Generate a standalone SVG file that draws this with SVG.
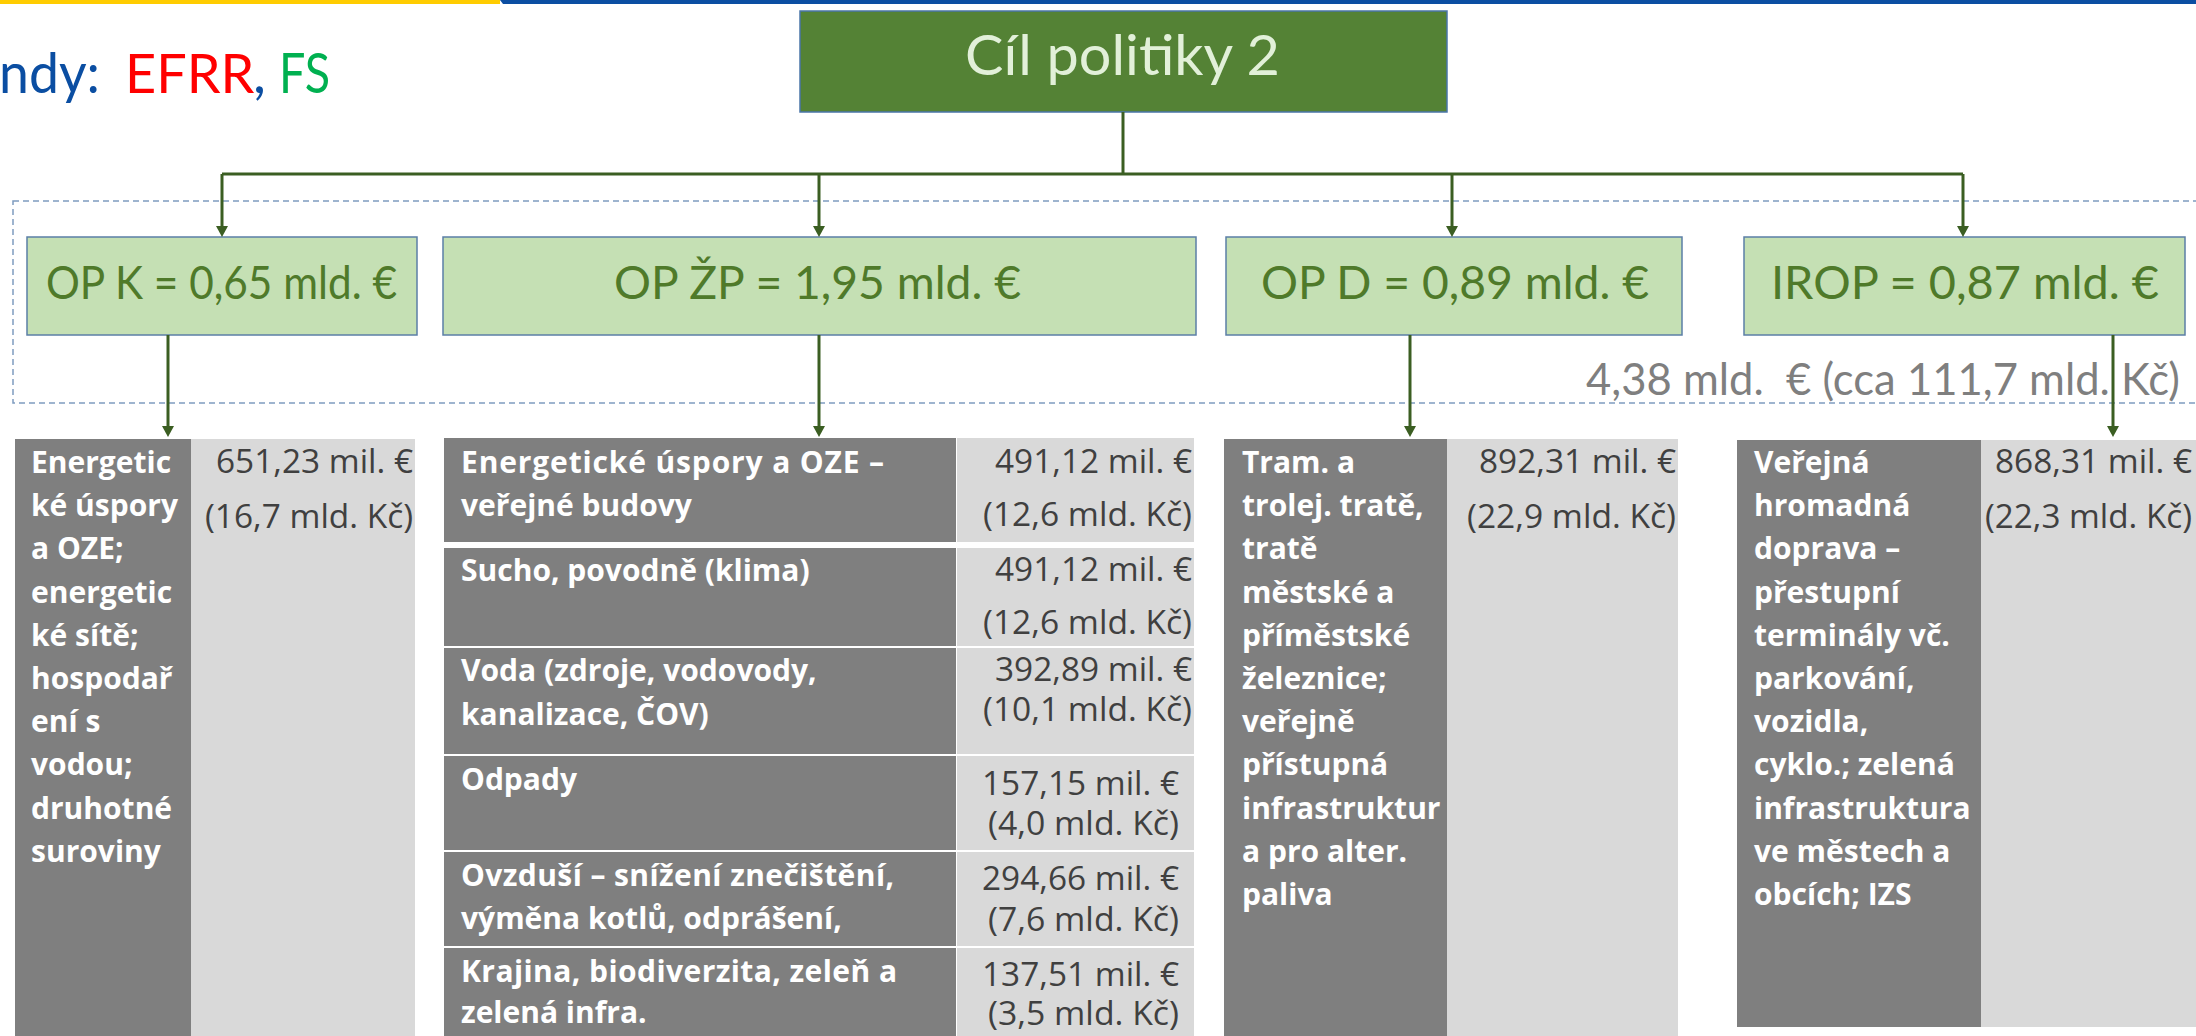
<svg xmlns="http://www.w3.org/2000/svg" width="2196" height="1036" viewBox="0 0 2196 1036">
<style>
.bar-y{fill:#FFCC00}
.bar-b{fill:#0B4EA2}
.title{fill:#548235;stroke:#4A75A8;stroke-width:1.5}
.op{fill:#C5E0B4;stroke:#5B7FA6;stroke-width:1.5}
.optx{font-family:Lato,"Open Sans",sans-serif;font-size:46px;fill:#4F7A2A}
.fund{font-family:Lato,"Open Sans",sans-serif;font-size:57px}
.dk{fill:#7F7F7F}
.lt{fill:#D9D9D9}
.bt{font-family:"Open Sans","Noto Sans",sans-serif;font-weight:bold;font-size:30px;fill:#FFFFFF}
.nt{font-family:"Open Sans","Noto Sans",sans-serif;font-size:32px;fill:#404040}
.conn{fill:none;stroke:#3B5E22;stroke-width:3}
.dash{fill:none;stroke:#7F9CC0;stroke-width:1.5;stroke-dasharray:6 4}
</style>
<defs>
<marker id="arr" viewBox="0 0 11 12" refX="0" refY="6" markerWidth="11" markerHeight="12" markerUnits="userSpaceOnUse" orient="auto">
<path d="M0,0 L11,6 L0,12 z" fill="#3B5E22"/>
</marker>
</defs>
<rect width="2196" height="1036" fill="#FFFFFF"/>
<rect class="bar-y" x="0" y="0" width="500" height="4"/>
<polygon class="bar-b" points="500,0 2196,0 2196,4 503,4"/>

<g id="funds-label">
<text class="fund" x="-1" y="93" fill="#0B4EA2" textLength="101" lengthAdjust="spacingAndGlyphs">ndy:</text>
<text class="fund" x="125" y="93" fill="#FF0000" style="font-size:54px">EFRR</text>
<text class="fund" x="253" y="93" fill="#0B4EA2">,</text>
<text class="fund" x="279" y="93" fill="#00B050" textLength="51" lengthAdjust="spacingAndGlyphs">FS</text>
</g>

<rect class="dash" x="13" y="201" width="2220" height="202"/>

<g id="node-title">
<rect class="title" x="800" y="11" width="647" height="101"/>
<text x="965" y="75" font-family="Lato,'Open Sans',sans-serif" font-size="57px" fill="#E2F0D9" textLength="315" lengthAdjust="spacingAndGlyphs">Cíl politiky 2</text>
</g>

<g id="node-opk">
<rect class="op" x="27" y="237" width="390" height="98"/>
<text class="optx" x="46" y="299" textLength="351" lengthAdjust="spacingAndGlyphs">OP K = 0,65 mld. €</text>
</g>
<g id="node-opzp">
<rect class="op" x="443" y="237" width="753" height="98"/>
<text class="optx" x="614" y="299" textLength="407" lengthAdjust="spacingAndGlyphs">OP ŽP = 1,95 mld. €</text>
</g>
<g id="node-opd">
<rect class="op" x="1226" y="237" width="456" height="98"/>
<text class="optx" x="1261" y="299" textLength="388" lengthAdjust="spacingAndGlyphs">OP D = 0,89 mld. €</text>
</g>
<g id="node-irop">
<rect class="op" x="1744" y="237" width="441" height="98"/>
<text class="optx" x="1771" y="299" textLength="388" lengthAdjust="spacingAndGlyphs">IROP = 0,87 mld. €</text>
</g>

<g id="total-label">
<text x="1586" y="395" font-family="Lato,'Open Sans',sans-serif" font-size="44px" fill="#7F7F7F" textLength="594" lengthAdjust="spacingAndGlyphs">4,38 mld.&#160; € (cca 111,7 mld. Kč)</text>
</g>

<g id="table-opk">
<rect class="dk" x="15" y="439" width="176" height="600"/>
<rect class="lt" x="191" y="439" width="224" height="600"/>
<text class="bt" x="31">
<tspan x="31" y="473">Energetic</tspan>
<tspan x="31" y="516">ké úspory</tspan>
<tspan x="31" y="559">a OZE;</tspan>
<tspan x="31" y="603">energetic</tspan>
<tspan x="31" y="646">ké sítě;</tspan>
<tspan x="31" y="689">hospodař</tspan>
<tspan x="31" y="732">ení s</tspan>
<tspan x="31" y="775">vodou;</tspan>
<tspan x="31" y="819">druhotné</tspan>
<tspan x="31" y="862">suroviny</tspan>
</text>
<text class="nt" x="216" y="473" textLength="197" lengthAdjust="spacingAndGlyphs">651,23 mil. €</text>
<text class="nt" x="205" y="528" textLength="208" lengthAdjust="spacingAndGlyphs">(16,7 mld. Kč)</text>
</g>

<g id="table-opzp">
<rect class="dk" x="444" y="438" width="512" height="104"/>
<rect class="lt" x="957" y="438" width="237" height="104"/>
<rect class="dk" x="444" y="548" width="512" height="98"/>
<rect class="lt" x="957" y="548" width="237" height="98"/>
<rect class="dk" x="444" y="648" width="512" height="106"/>
<rect class="lt" x="957" y="648" width="237" height="106"/>
<rect class="dk" x="444" y="756" width="512" height="94"/>
<rect class="lt" x="957" y="756" width="237" height="94"/>
<rect class="dk" x="444" y="852" width="512" height="94"/>
<rect class="lt" x="957" y="852" width="237" height="94"/>
<rect class="dk" x="444" y="948" width="512" height="92"/>
<rect class="lt" x="957" y="948" width="237" height="92"/>
<text class="bt" x="461" y="473" textLength="423" lengthAdjust="spacing">Energetické úspory a OZE –</text>
<text class="bt" x="461" y="516">veřejné budovy</text>
<text class="bt" x="461" y="581">Sucho, povodně (klima)</text>
<text class="bt" x="461" y="681">Voda (zdroje, vodovody,</text>
<text class="bt" x="461" y="725">kanalizace, ČOV)</text>
<text class="bt" x="461" y="790">Odpady</text>
<text class="bt" x="461" y="886" textLength="433" lengthAdjust="spacing">Ovzduší – snížení znečištění,</text>
<text class="bt" x="461" y="929">výměna kotlů, odprášení,</text>
<text class="bt" x="461" y="982" textLength="436" lengthAdjust="spacing">Krajina, biodiverzita, zeleň a</text>
<text class="bt" x="461" y="1023">zelená infra.</text>
<text class="nt" x="995" y="473" textLength="197" lengthAdjust="spacingAndGlyphs">491,12 mil. €</text>
<text class="nt" x="983" y="526" textLength="209" lengthAdjust="spacingAndGlyphs">(12,6 mld. Kč)</text>
<text class="nt" x="995" y="581" textLength="197" lengthAdjust="spacingAndGlyphs">491,12 mil. €</text>
<text class="nt" x="983" y="634" textLength="209" lengthAdjust="spacingAndGlyphs">(12,6 mld. Kč)</text>
<text class="nt" x="995" y="681" textLength="197" lengthAdjust="spacingAndGlyphs">392,89 mil. €</text>
<text class="nt" x="983" y="721" textLength="209" lengthAdjust="spacingAndGlyphs">(10,1 mld. Kč)</text>
<text class="nt" x="982" y="795" textLength="197" lengthAdjust="spacingAndGlyphs">157,15 mil. €</text>
<text class="nt" x="988" y="835" textLength="191" lengthAdjust="spacingAndGlyphs">(4,0 mld. Kč)</text>
<text class="nt" x="982" y="890" textLength="197" lengthAdjust="spacingAndGlyphs">294,66 mil. €</text>
<text class="nt" x="988" y="931" textLength="191" lengthAdjust="spacingAndGlyphs">(7,6 mld. Kč)</text>
<text class="nt" x="982" y="986" textLength="197" lengthAdjust="spacingAndGlyphs">137,51 mil. €</text>
<text class="nt" x="988" y="1025" textLength="191" lengthAdjust="spacingAndGlyphs">(3,5 mld. Kč)</text>
</g>

<g id="table-opd">
<rect class="dk" x="1224" y="439" width="223" height="600"/>
<rect class="lt" x="1447" y="439" width="231" height="600"/>
<text class="bt">
<tspan x="1242" y="473">Tram. a</tspan>
<tspan x="1242" y="516">trolej. tratě,</tspan>
<tspan x="1242" y="559">tratě</tspan>
<tspan x="1242" y="603">městské a</tspan>
<tspan x="1242" y="646">příměstské</tspan>
<tspan x="1242" y="689">železnice;</tspan>
<tspan x="1242" y="732">veřejně</tspan>
<tspan x="1242" y="775">přístupná</tspan>
<tspan x="1242" y="819">infrastruktur</tspan>
<tspan x="1242" y="862">a pro alter.</tspan>
<tspan x="1242" y="905">paliva</tspan>
</text>
<text class="nt" x="1479" y="473" textLength="197" lengthAdjust="spacingAndGlyphs">892,31 mil. €</text>
<text class="nt" x="1467" y="528" textLength="209" lengthAdjust="spacingAndGlyphs">(22,9 mld. Kč)</text>
</g>

<g id="table-irop">
<rect class="dk" x="1737" y="440" width="244" height="587"/>
<rect class="lt" x="1981" y="440" width="215" height="587"/>
<text class="bt">
<tspan x="1754" y="473">Veřejná</tspan>
<tspan x="1754" y="516">hromadná</tspan>
<tspan x="1754" y="559">doprava –</tspan>
<tspan x="1754" y="603">přestupní</tspan>
<tspan x="1754" y="646">terminály vč.</tspan>
<tspan x="1754" y="689">parkování,</tspan>
<tspan x="1754" y="732">vozidla,</tspan>
<tspan x="1754" y="775">cyklo.; zelená</tspan>
<tspan x="1754" y="819">infrastruktura</tspan>
<tspan x="1754" y="862">ve městech a</tspan>
<tspan x="1754" y="905">obcích; IZS</tspan>
</text>
<text class="nt" x="1995" y="473" textLength="197" lengthAdjust="spacingAndGlyphs">868,31 mil. €</text>
<text class="nt" x="1985" y="528" textLength="207" lengthAdjust="spacingAndGlyphs">(22,3 mld. Kč)</text>
</g>

<g id="connectors">
<path class="conn" d="M1123,112 V174"/>
<path class="conn" d="M222,174 H1963"/>
<path class="conn" d="M222,174 V226" marker-end="url(#arr)"/>
<path class="conn" d="M819,174 V226" marker-end="url(#arr)"/>
<path class="conn" d="M1452,174 V226" marker-end="url(#arr)"/>
<path class="conn" d="M1963,174 V226" marker-end="url(#arr)"/>
<path class="conn" d="M168,335 V426" marker-end="url(#arr)"/>
<path class="conn" d="M819,335 V426" marker-end="url(#arr)"/>
<path class="conn" d="M1410,335 V426" marker-end="url(#arr)"/>
<path class="conn" d="M2113,335 V426" marker-end="url(#arr)"/>
</g>
</svg>
